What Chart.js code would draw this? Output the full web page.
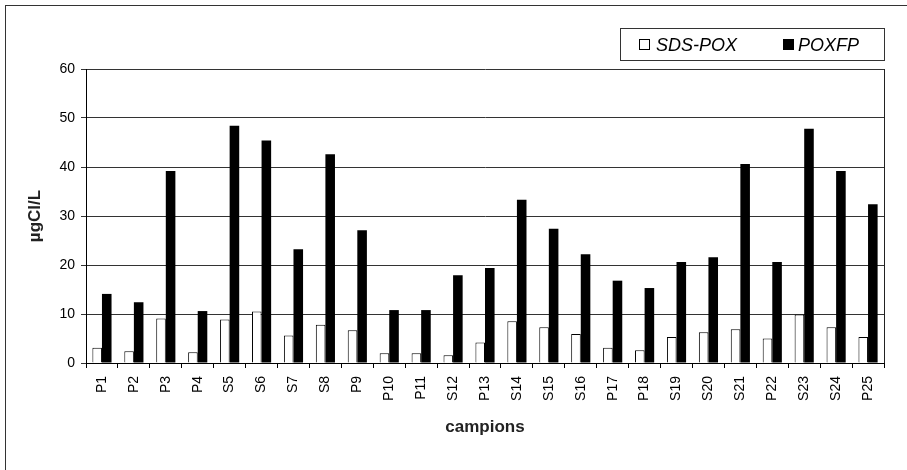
<!DOCTYPE html>
<html>
<head>
<meta charset="utf-8">
<script src="https://cdn.jsdelivr.net/npm/chart.js@4.4.1/dist/chart.umd.min.js"></script>
<style>
    html, body { margin: 0; padding: 0; background: #fff; overflow: hidden; }
</style>
</head>
<body>
<canvas id="chart" width="907" height="470"></canvas>
<script>
const categories = ["P1", "P2", "P3", "P4", "S5", "S6", "S7", "S8", "P9", "P10", "P11", "S12", "P13",
    "S14", "S15", "S16", "P17", "P18", "S19", "S20", "S21", "P22", "S23", "S24", "P25"];
const sdsPox = [3.1, 2.4, 9.1, 2.2, 8.9, 10.5, 5.6, 7.8, 6.7, 2.0, 2.0, 1.6, 4.2,
    8.5, 7.3, 5.9, 3.1, 2.6, 5.3, 6.3, 6.9, 5.0, 9.9, 7.3, 5.3];
const poxfp = [14.1, 12.4, 39.2, 10.6, 48.4, 45.4, 23.2, 42.6, 27.1, 10.8, 10.8, 17.9, 19.4,
    33.3, 27.4, 22.2, 16.8, 15.3, 20.6, 21.6, 40.6, 20.6, 47.8, 39.2, 32.4];
const yMin = 0, yMax = 60, yStep = 10;

const FONT = "'Liberation Sans', Arial, sans-serif";

// outer frame, plot border on the right, boxed legend
const framePlugin = {
    id: "frame",
    beforeDraw(chart) {
        const ctx = chart.ctx;
        ctx.save();
        ctx.fillStyle = "#fff";
        ctx.fillRect(0, 0, chart.width, chart.height);
        ctx.strokeStyle = "#333";
        ctx.lineWidth = 1;
        ctx.strokeRect(5.5, 5.5, chart.width + 20, chart.height + 20);
        ctx.restore();
    },
    afterDraw(chart) {
        const ctx = chart.ctx;
        const a = chart.chartArea;
        ctx.save();
        ctx.strokeStyle = "#222";
        ctx.lineWidth = 1;
        const rx = Math.round(a.right) + 0.5;
        ctx.beginPath();
        ctx.moveTo(rx, a.top);
        ctx.lineTo(rx, a.bottom);
        ctx.stroke();

        // legend
        ctx.strokeStyle = "#333";
        ctx.strokeRect(620.5, 28.5, Math.round(a.right) - 620, 32);
        const slots = [{ sq: 639, tx: 656 }, { sq: 783, tx: 798 }];
        ctx.font = "italic 18px " + FONT;
        ctx.textBaseline = "alphabetic";
        chart.data.datasets.forEach((ds, i) => {
            const s = slots[i];
            ctx.fillStyle = ds.backgroundColor;
            ctx.fillRect(s.sq, 39, 11, 11);
            ctx.strokeStyle = "#000";
            ctx.strokeRect(s.sq + 0.5, 39.5, 10, 10);
            ctx.fillStyle = "#000";
            ctx.fillText(ds.label, s.tx, 51);
        });
        ctx.restore();
    },
};

new Chart(document.getElementById("chart"), {
    type: "bar",
    data: {
        labels: categories,
        datasets: [
            {
                label: "SDS-POX",
                data: sdsPox,
                backgroundColor: "#ffffff",
                borderColor: "#000000",
                borderWidth: 1,
                categoryPercentage: 0.6,
                barPercentage: 1,
            },
            {
                label: "POXFP",
                data: poxfp,
                backgroundColor: "#000000",
                borderWidth: 0,
                categoryPercentage: 0.6,
                barPercentage: 1,
            },
        ],
    },
    options: {
        responsive: false,
        animation: false,
        layout: { padding: { left: 0, right: 23, top: 69, bottom: 0 } },
        plugins: {
            legend: { display: false },
            tooltip: { enabled: false },
        },
        scales: {
            x: {
                afterFit: s => { s.height = 107; },
                grid: { display: true, drawOnChartArea: false, drawTicks: true, tickLength: 5, color: "#000", offset: true },
                border: { color: "#000", width: 1 },
                ticks: {
                    autoSkip: false,
                    maxRotation: 90,
                    minRotation: 90,
                    padding: 8,
                    color: "#000",
                    font: { family: FONT, size: 14 },
                },
                title: {
                    display: true,
                    text: "campions",
                    color: "#222",
                    font: { family: FONT, size: 17, weight: "bold" },
                    padding: { top: 0, bottom: 32 },
                },
            },
            y: {
                min: yMin,
                max: yMax,
                afterFit: s => { s.width = 86; },
                grid: { color: "#333", lineWidth: 1, tickLength: 5 },
                border: { color: "#000", width: 1 },
                ticks: {
                    stepSize: yStep,
                    padding: 6,
                    color: "#000",
                    font: { family: FONT, size: 14 },
                },
                title: {
                    display: true,
                    text: "µgCl/L",
                    color: "#222",
                    font: { family: FONT, size: 17, weight: "bold" },
                    padding: { top: 25, bottom: 0 },
                },
            },
        },
    },
    plugins: [framePlugin],
});
</script>
</body>
</html>
